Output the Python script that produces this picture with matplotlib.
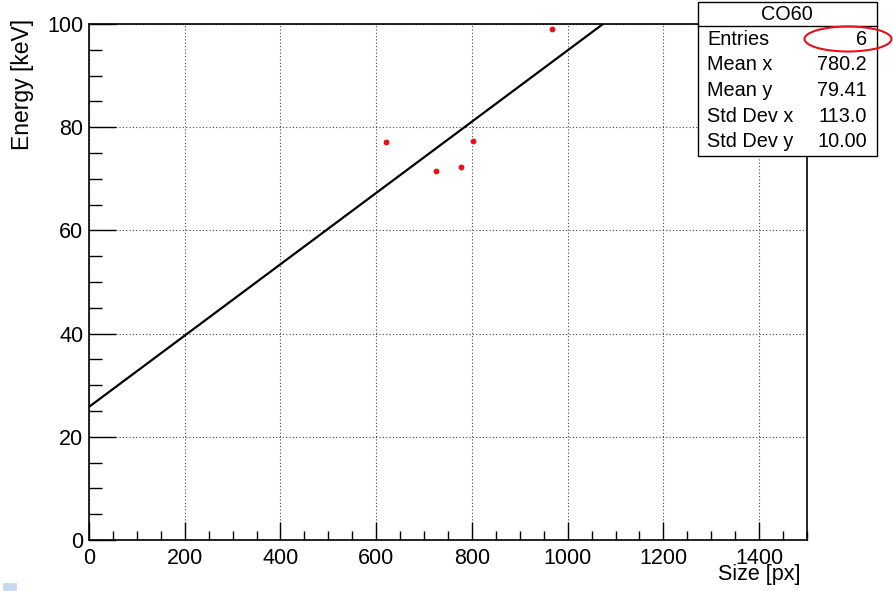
import numpy as np
import matplotlib
matplotlib.use("Agg")
import matplotlib.pyplot as plt
from matplotlib.patches import Rectangle, Ellipse
from matplotlib.ticker import MultipleLocator

plt.rcParams['font.family'] = ['Liberation Sans', 'DejaVu Sans']

# Measured cluster sizes and energies
size_px = [620, 724, 777, 803, 967]
energy_kev = [77.1, 71.6, 72.2, 77.3, 99.0]

# Linear calibration fit  E = p0 + p1 * size
fit_p0 = 25.8
fit_p1 = 0.0691

# Statistics box contents
stats_title = "CO60"
stats_names = ["Entries", "Mean x", "Mean y", "Std Dev x", "Std Dev y"]
stats_values = ["6", "780.2", "79.41", "113.0", "10.00"]

x_ticks = [0, 200, 400, 600, 800, 1000, 1200, 1400]
y_ticks = [0, 20, 40, 60, 80, 100]

W, H = 893, 591
fig = plt.figure(figsize=(W / 100, H / 100), dpi=100)
ax = fig.add_axes([89 / W, 1 - 540 / H, (807 - 89) / W, (540 - 24) / H])

ax.set_xlim(0, 1500)
ax.set_ylim(0, 100)

ax.plot(size_px, energy_kev, 'o', color='#e8101a', markersize=4.2,
        markeredgewidth=0, zorder=3)

xf = np.linspace(0, 1500, 400)
ax.plot(xf, fit_p0 + fit_p1 * xf, color='black', lw=1.6, zorder=4)

ax.set_xticks(x_ticks)
ax.set_xticklabels([str(v) for v in x_ticks])
ax.set_yticks(y_ticks)
ax.set_yticklabels([str(v) for v in y_ticks])
ax.xaxis.set_minor_locator(MultipleLocator(50))
ax.yaxis.set_minor_locator(MultipleLocator(5))

ax.tick_params(axis='x', which='major', direction='in', length=13, width=1,
               labelsize=15.5, pad=6, top=False)
ax.tick_params(axis='x', which='minor', direction='in', length=6.5, width=1,
               top=False)
ax.tick_params(axis='y', which='major', direction='in', length=19.5, width=1,
               labelsize=15.5, pad=4, right=False)
ax.tick_params(axis='y', which='minor', direction='in', length=9.7, width=1,
               right=False)

ax.grid(True, which='major', color='#444444', linestyle=(0, (1, 2)), lw=0.8)
for s in ax.spines.values():
    s.set_linewidth(1.2)
    s.set_color('black')

fig.text(801 / W, 1 - 580 / H, "Size [px]", ha='right', va='baseline',
         fontsize=15.5)
fig.text(22 / W, 1 - 19 / H, "Energy [keV]", ha='center', va='top',
         rotation=90, fontsize=16.5)

# Overlay in pixel coordinates for the statistics box
ov = fig.add_axes([0, 0, 1, 1])
ov.set_xlim(0, W)
ov.set_ylim(H, 0)
ov.axis('off')

bx0, bx1, by0, by1 = 697.5, 876.5, 2, 155.5
ov.add_patch(Rectangle((bx0, by0), bx1 - bx0, by1 - by0, facecolor='white',
                       edgecolor='black', lw=1.0, zorder=5))
ov.plot([bx0, bx1], [26, 26], color='black', lw=1.0, zorder=6)
ov.text((bx0 + bx1) / 2, 14.5, stats_title, ha='center', va='center',
        fontsize=14.3, zorder=7)
row_y = [39.5, 65, 90.5, 116, 141.5]
for yy, name, val in zip(row_y, stats_names, stats_values):
    ov.text(707, yy, name, ha='left', va='center', fontsize=14.3, zorder=7)
    ov.text(867, yy, val, ha='right', va='center', fontsize=14.3, zorder=7)

ov.add_patch(Ellipse((848, 39), 87, 25, fill=False, edgecolor='#e8101a',
                     lw=1.5, zorder=8, clip_on=False))

ov.add_patch(Rectangle((3, 583), 14, 8, facecolor='#c9d9ee', edgecolor='none',
                       zorder=5))

fig.savefig("out.png", dpi=100)
